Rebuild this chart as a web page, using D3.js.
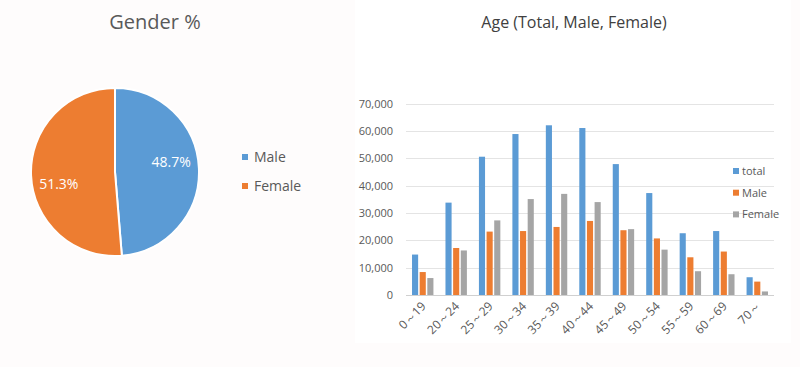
<!DOCTYPE html>
<html>
<head>
<meta charset="utf-8">
<script src="https://cdn.jsdelivr.net/npm/d3@7"></script>
<style>
  html, body { margin: 0; padding: 0; background: #fefcfc; }
  svg { display: block; font-family: "Open Sans", "Noto Sans", sans-serif; }
</style>
</head>
<body>
<svg id="chart" width="800" height="367"></svg>
<script>

// gender split
const genders = ["Male", "Female"]
const genderShare = [48.7, 51.3]

// age groups
const ageGroups = ["0～19", "20～24", "25～29", "30～34", "35～39", "40～44", "45～49", "50～54", "55～59", "60～69", "70～"]
const seriesNames = ["total", "Male", "Female"]
const totalValues = [14800, 33800, 50600, 58900, 62100, 61100, 47900, 37300, 22600, 23400, 6500]
const maleValues = [8400, 17200, 23200, 23400, 24900, 27100, 23700, 20700, 13800, 15900, 4900]
const femaleValues = [6200, 16300, 27300, 35100, 37000, 34000, 24100, 16600, 8700, 7600, 1300]
const yTicks = [0, 10000, 20000, 30000, 40000, 50000, 60000, 70000]

const blue = "#5b9bd5"
const orange = "#ed7d31"
const grey = "#a5a5a5"
const textColor = "#595959"

const svg = d3.select("#chart")

// ---- pie ----

const pieG = svg.append("g")

pieG.append("text")
    .attr("x", 155).attr("y", 29)
    .attr("text-anchor", "middle")
    .attr("font-size", 20)
    .attr("fill", textColor)
    .text("Gender %")

const cx = 115, cy = 172, r = 84

const pie = d3.pie().sort(null).value(d => d)
const arc = d3.arc().innerRadius(0).outerRadius(r)
const slices = pie(genderShare)
const pieColor = d3.scaleOrdinal().domain(genders).range([blue, orange])

const pg = pieG.append("g").attr("transform", `translate(${cx},${cy})`)

pg.selectAll("path")
    .data(slices)
    .join("path")
    .attr("d", arc)
    .attr("fill", (d, i) => pieColor(genders[i]))
    .attr("stroke", "#fff")
    .attr("stroke-width", 2)

const labelArc = d3.arc().innerRadius(r * 0.67).outerRadius(r * 0.67)

pg.selectAll("text.pct")
    .data(slices)
    .join("text")
    .attr("class", "pct")
    .attr("transform", d => {
        const c = labelArc.centroid(d)
        // excel nudges the labels a little off the mid angle
        const dy = d.index === 0 ? -8 : 10
        return `translate(${c[0]},${c[1] + dy + 5})`
    })
    .attr("text-anchor", "middle")
    .attr("font-size", 14)
    .attr("fill", "#fff")
    .text(d => d.value.toFixed(1) + "%")

const pieLegend = pieG.append("g").attr("transform", "translate(242,154)")

genders.forEach(function(g, i) {
    pieLegend.append("rect")
        .attr("x", 0).attr("y", i * 29)
        .attr("width", 6).attr("height", 6)
        .attr("fill", pieColor(g))
    pieLegend.append("text")
        .attr("x", 12).attr("y", i * 29 + 8)
        .attr("font-size", 14)
        .attr("fill", textColor)
        .text(g)
})

// ---- bars ----

svg.append("rect")
    .attr("x", 355).attr("y", 0)
    .attr("width", 436).attr("height", 343)
    .attr("fill", "#fff")

svg.append("text")
    .attr("x", 574).attr("y", 28)
    .attr("text-anchor", "middle")
    .attr("font-size", 16)
    .attr("fill", "#404040")
    .text("Age (Total, Male, Female)")

const plot = { left: 406, right: 774, top: 103.7, bottom: 295 }

const x = d3.scaleBand()
    .domain(ageGroups)
    .range([plot.left, plot.right])
    .paddingInner(0.36)
    .paddingOuter(0.18)

const xs = d3.scaleBand()
    .domain(seriesNames)
    .range([0, x.bandwidth()])
    .paddingInner(0.2)

const y = d3.scaleLinear()
    .domain([0, 70000])
    .range([plot.bottom, plot.top])

const barColor = d3.scaleOrdinal().domain(seriesNames).range([blue, orange, grey])

const grid = svg.append("g")

grid.selectAll("line")
    .data(yTicks)
    .join("line")
    .attr("x1", plot.left).attr("x2", plot.right)
    .attr("y1", d => Math.round(y(d)) + 0.5)
    .attr("y2", d => Math.round(y(d)) + 0.5)
    .attr("stroke", d => d === 0 ? "#d0d0d0" : "#e4e4e4")
    .attr("stroke-width", 1)

grid.selectAll("text")
    .data(yTicks)
    .join("text")
    .attr("x", 393)
    .attr("y", d => y(d) + 4)
    .attr("text-anchor", "end")
    .attr("font-size", 11)
    .attr("fill", textColor)
    .text(d => d3.format(",")(d))

const rows = ageGroups.map((a, i) => ({
    age: a,
    values: [
        { key: "total", value: totalValues[i] },
        { key: "Male", value: maleValues[i] },
        { key: "Female", value: femaleValues[i] }
    ]
}))

svg.append("g")
    .selectAll("g")
    .data(rows)
    .join("g")
    .attr("transform", d => `translate(${x(d.age)},0)`)
    .selectAll("rect")
    .data(d => d.values)
    .join("rect")
    .attr("x", d => xs(d.key))
    .attr("width", xs.bandwidth())
    .attr("y", d => y(d.value))
    .attr("height", d => y(0) - y(d.value))
    .attr("fill", d => barColor(d.key))

svg.append("g")
    .selectAll("text")
    .data(ageGroups)
    .join("text")
    .attr("transform", d => `translate(${x(d) + x.bandwidth() / 2 + 4},${plot.bottom + 12}) rotate(-45)`)
    .attr("text-anchor", "end")
    .attr("font-size", 12)
    .attr("fill", textColor)
    .text(d => d)

const barLegend = svg.append("g").attr("transform", "translate(733,168)")

seriesNames.forEach(function(s, i) {
    barLegend.append("rect")
        .attr("x", 0).attr("y", i * 21.7)
        .attr("width", 6).attr("height", 6)
        .attr("fill", barColor(s))
    barLegend.append("text")
        .attr("x", 9).attr("y", i * 21.7 + 7)
        .attr("font-size", 11)
        .attr("fill", textColor)
        .text(s)
})

</script>
</body>
</html>
